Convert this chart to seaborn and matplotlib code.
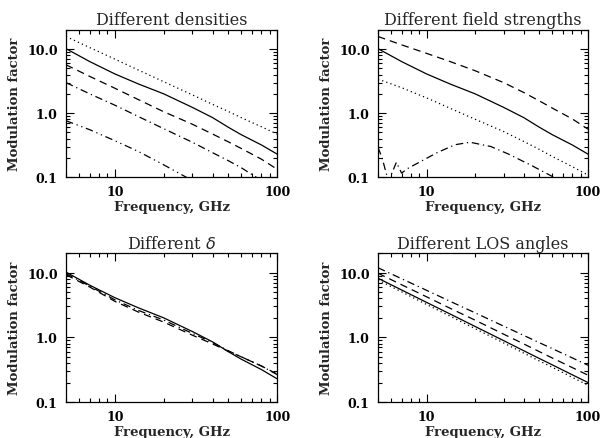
import matplotlib; matplotlib.use("Agg")
import matplotlib.pyplot as plt
import matplotlib.ticker as mticker
import pandas as pd
import seaborn as sns

# frequency grid, GHz
freq = [5, 7, 10, 14, 20, 30, 40, 50, 60, 80, 100]

# reference model (solid line in every panel)
ref = [10.2, 6.4, 4.1, 2.85, 2.0, 1.23, 0.85, 0.6, 0.46, 0.317, 0.228]

# panel 1: different densities
dens_dot = [15.8, 10.6, 7.0, 4.7, 3.1, 1.93, 1.37, 1.06, 0.85, 0.61, 0.47]
dens_dash = [5.7, 3.75, 2.45, 1.62, 1.05, 0.67, 0.47, 0.355, 0.28, 0.19, 0.132]
dens_dashdot = [3.0, 2.0, 1.33, 0.88, 0.57, 0.35, 0.24, 0.18, 0.14, 0.088, 0.057]
dens_dashdotdot = [0.76, 0.55, 0.37, 0.25, 0.155, 0.088, 0.06, 0.045, 0.036, 0.025, 0.018]

# panel 2: different field strengths
fld_dash = [15.8, 11.7, 8.6, 6.4, 4.6, 3.0, 2.1, 1.55, 1.2, 0.81, 0.56]
fld_dot = [3.4, 2.5, 1.73, 1.19, 0.80, 0.515, 0.36, 0.27, 0.21, 0.145, 0.107]
fld_dd_freq = [5, 5.3, 5.8, 6.5, 7.0, 7.6, 9, 11.6, 15, 18.6, 25, 32, 45, 61, 80, 100]
fld_dd = [0.29, 0.2, 0.085, 0.17, 0.115, 0.135, 0.17, 0.24, 0.32, 0.35, 0.3, 0.23, 0.15, 0.1, 0.07, 0.05]

# panel 3: different delta
dlt_dash = [9.3, 6.0, 3.6, 2.45, 1.72, 1.08, 0.79, 0.61, 0.5, 0.36, 0.27]
dlt_dashdot = [9.7, 6.2, 3.8, 2.6, 1.85, 1.15, 0.83, 0.62, 0.5, 0.36, 0.265]

# panel 4: different LOS angles
los_solid = [8.2, 5.4, 3.47, 2.29, 1.47, 0.89, 0.62, 0.47, 0.376, 0.263, 0.20]
los_dot = [7.7, 5.05, 3.22, 2.12, 1.36, 0.82, 0.57, 0.43, 0.345, 0.24, 0.182]
los_dash = [9.8, 6.5, 4.23, 2.81, 1.84, 1.12, 0.79, 0.60, 0.48, 0.34, 0.26]
los_dashdot = [11.9, 8.06, 5.33, 3.6, 2.39, 1.49, 1.07, 0.825, 0.67, 0.48, 0.37]

STY = {
    "solid": "-",
    "dot": (0, (1, 2.5)),
    "dash": (0, (6, 4)),
    "dashdot": (0, (6, 3, 1, 3)),
    "dashdotdot": (0, (6, 3, 1, 3, 1, 3)),
}

sns.set_style("ticks")
plt.rcParams["font.family"] = ["DejaVu Serif"]

fig = plt.figure(figsize=(6, 4.39), dpi=100)
boxes = [
    [0.110, 0.5945, 0.352, 0.335],
    [0.630, 0.5945, 0.350, 0.335],
    [0.110, 0.082, 0.352, 0.339],
    [0.630, 0.082, 0.350, 0.339],
]
panels = [
    ("Different densities", [(freq, dens_dot, "dot"), (freq, ref, "solid"), (freq, dens_dash, "dash"),
                             (freq, dens_dashdot, "dashdot"), (freq, dens_dashdotdot, "dashdotdot")]),
    ("Different field strengths", [(freq, fld_dash, "dash"), (freq, ref, "solid"), (freq, fld_dot, "dot"),
                                   (fld_dd_freq, fld_dd, "dashdot")]),
    (r"Different $\delta$", [(freq, ref, "solid"), (freq, dlt_dash, "dash"), (freq, dlt_dashdot, "dashdot")]),
    ("Different LOS angles", [(freq, los_solid, "solid"), (freq, los_dot, "dot"), (freq, los_dash, "dash"),
                              (freq, los_dashdot, "dashdot")]),
]

for box, (title, curves) in zip(boxes, panels):
    ax = fig.add_axes(box)
    for xs, ys, st in curves:
        df = pd.DataFrame({"f": xs, "m": ys})
        sns.lineplot(data=df, x="f", y="m", ax=ax, color="black", lw=0.9,
                     linestyle=STY[st], estimator=None, sort=False)
    ax.set_xscale("log"); ax.set_yscale("log")
    ax.set_xlim(5, 100); ax.set_ylim(0.1, 20)
    ax.xaxis.set_major_locator(mticker.FixedLocator([10, 100]))
    ax.xaxis.set_major_formatter(mticker.FixedFormatter(["10", "100"]))
    ax.yaxis.set_major_locator(mticker.FixedLocator([0.1, 1, 10]))
    ax.yaxis.set_major_formatter(mticker.FixedFormatter(["0.1", "1.0", "10.0"]))
    ax.xaxis.set_minor_locator(mticker.LogLocator(base=10, subs=range(2, 10)))
    ax.yaxis.set_minor_locator(mticker.LogLocator(base=10, subs=range(2, 10)))
    ax.xaxis.set_minor_formatter(mticker.NullFormatter())
    ax.yaxis.set_minor_formatter(mticker.NullFormatter())
    ax.tick_params(which="both", direction="in", top=True, right=True, width=0.8, colors="black")
    ax.tick_params(which="major", length=6, labelsize=9, pad=6)
    ax.tick_params(which="minor", length=3)
    for lab in ax.get_xticklabels() + ax.get_yticklabels():
        lab.set_fontweight("bold")
    for sp in ax.spines.values():
        sp.set_linewidth(0.9); sp.set_color("black")
    ax.set_xlabel("Frequency, GHz", fontsize=9.5, fontweight="bold", labelpad=1)
    ax.set_ylabel("Modulation factor", fontsize=9.5, fontweight="bold", labelpad=4)
    ax.set_title(title, fontsize=11.5, pad=4)

fig.savefig("out.png", dpi=100)
